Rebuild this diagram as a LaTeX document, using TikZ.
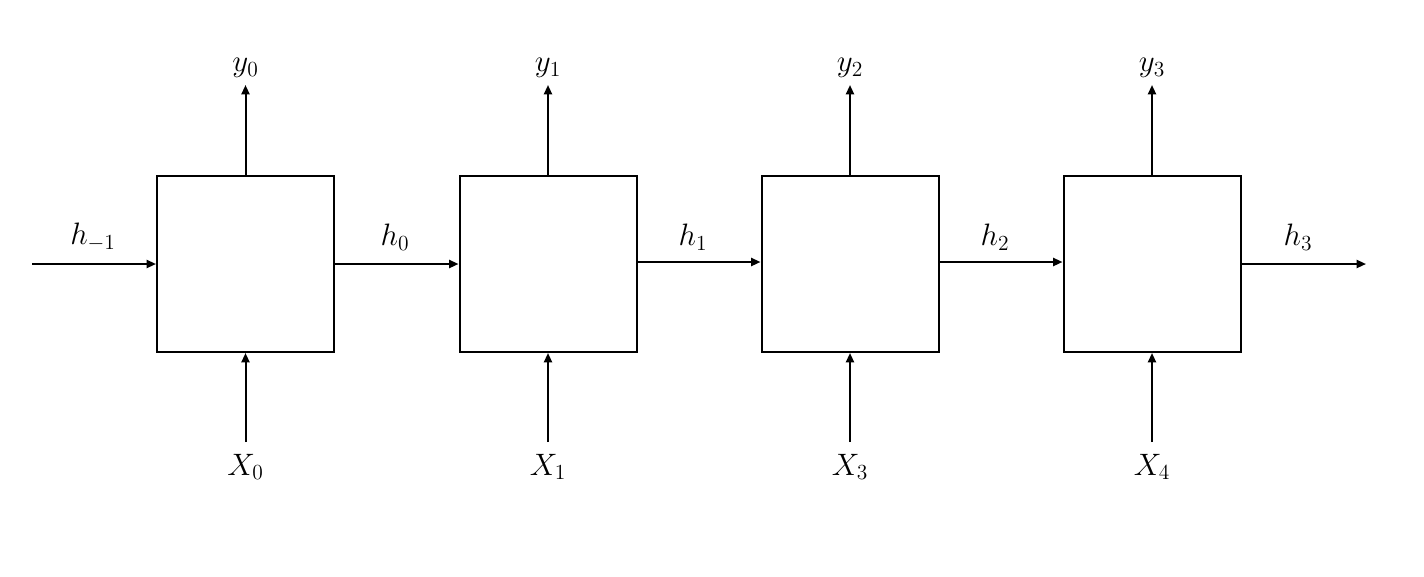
\documentclass[tikz,border=0pt]{standalone}
\usepackage{graphicx}
\usetikzlibrary{arrows.meta}
\newcommand{\lbtext}[1]{\scalebox{1.12}{$#1$}}
\begin{document}
\begin{tikzpicture}[x=0.75pt,y=-0.75pt,
  cell/.style={draw,line width=1.5pt,minimum width=177*0.75pt,minimum height=176*0.75pt,inner sep=0pt},
  conn/.style={line width=1.5pt,-{Triangle[length=7pt,width=6pt]}},
  lbl/.style={font=\huge,inner sep=0pt}]
\useasboundingbox (0,0) rectangle (1424,576);
\node[cell] (b0) at (245.5,264) {};
\node[cell] (b1) at (548,264) {};
\node[cell] (b2) at (850,264) {};
\node[cell] (b3) at (1152,264) {};
\coordinate (in) at (32,264);
\coordinate (out) at (1366,264);
\foreach \i/\xx in {0/245.5,1/548,2/850,3/1152}{
  \coordinate (t\i) at (\xx,85);
  \coordinate (u\i) at (\xx,442);
  \draw[conn] (b\i.north) -- (t\i);
  \draw[conn] (u\i) -- (b\i.south);
}
\node[lbl] (y0) at (245.5,68) {\lbtext{y_0}};
\node[lbl] (y1) at (548,68) {\lbtext{y_1}};
\node[lbl] (y2) at (850,68) {\lbtext{y_2}};
\node[lbl] (y3) at (1152,68) {\lbtext{y_3}};
\node[lbl] (x0) at (245.5,467) {\lbtext{X_0}};
\node[lbl] (x1) at (548,467) {\lbtext{X_1}};
\node[lbl] (x3) at (850,467) {\lbtext{X_3}};
\node[lbl] (x4) at (1152,467) {\lbtext{X_4}};
\draw[conn] (in) -- (b0.west);
\draw[conn] (b0.east) -- (b1.west);
\draw[conn] ([yshift=1.5pt]b1.east) -- ([yshift=1.5pt]b2.west);
\draw[conn] ([yshift=1.5pt]b2.east) -- ([yshift=1.5pt]b3.west);
\draw[conn] (b3.east) -- (out);
\node[lbl] (hm) at (93,237) {\lbtext{h_{-1}}};
\node[lbl] (h0) at (395,237) {\lbtext{h_0}};
\node[lbl] (h1) at (693,237) {\lbtext{h_1}};
\node[lbl] (h2) at (995,237) {\lbtext{h_2}};
\node[lbl] (h3) at (1298,237) {\lbtext{h_3}};
\end{tikzpicture}
\end{document}
